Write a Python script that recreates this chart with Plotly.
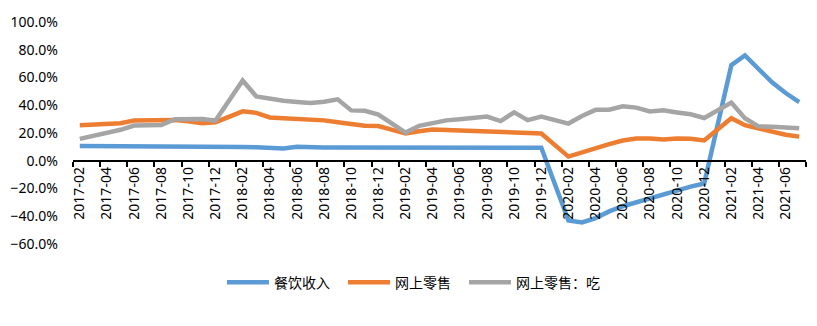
import plotly.graph_objects as go

# Categories: monthly 2017-02 .. 2021-07
categories = []
for y in range(2017, 2022):
    for m in range(1, 13):
        if (y == 2017 and m < 2) or (y == 2021 and m > 7):
            continue
        categories.append(f"{y}-{m:02d}")

N = None
catering = [10.7, 10.7, 10.7, 10.7, 10.7, 10.7, 10.7, 10.7, 10.7, 10.7, 10.6,
            N, 9.9, 9.8, 9.7, 8.9, 10.1, 9.5, 9.5, 9.5, 9.5, 9.5, 9.5,
            N, 9.7, 9.6, 9.6, 9.5, 9.4, 9.4, 9.4, 9.4, 9.4, 9.4, 9.4,
            N, -43.1, -44.5, -41.3, -36.5, -32.8, -29.8, -26.8, -23.8, -21.0, -18.6, -16.4,
            N, 68.9, 75.9, 66.7, 56.5, 48.8, 42.3]

online = [25.5, 26.0, 26.4, 27.0, 29.0, 29.3, 29.8, 29.3, 28.4, 27.1, 27.8,
          N, 35.6, 34.5, 31.2, 30.6, 30.1, 29.4, 29.1, 27.7, 26.5, 25.3, 25.0,
          N, 19.6, 21.2, 22.5, 22.2, 21.9, 21.4, 21.0, 20.6, 20.0, 19.8, 19.7,
          N, 3.0, 6.2, 9.2, 12.0, 14.6, 16.0, 16.0, 15.3, 16.0, 15.8, 14.6,
          N, 30.7, 25.6, 23.1, 20.4, 18.7, 17.4]

online_food = [15.8, 18.0, 20.0, 22.3, 25.4, 25.5, 25.7, 29.9, 30.1, 30.1, 29.0,
               N, 57.8, 46.4, 44.4, 43.2, 42.4, 41.6, 42.5, 44.3, 36.3, 36.0, 33.3,
               N, 20.3, 25.2, 27.0, 29.1, 29.9, 30.8, 31.8, 28.6, 34.9, 29.3, 31.8,
               N, 26.8, 32.3, 36.7, 36.8, 39.2, 38.3, 35.5, 36.3, 34.8, 33.5, 30.8,
               N, 41.9, 30.6, 24.8, 24.5, 24.0, 23.5]

series_names = ["餐饮收入", "网上零售", "网上零售：吃"]
colors = ["#5B9BD5", "#ED7D31", "#A5A5A5"]
legend_widths = [64, 64, 95]

fig = go.Figure()
for name, vals, col, lw in zip(series_names, [catering, online, online_food], colors, legend_widths):
    fig.add_trace(go.Scatter(
        x=categories, y=vals, name=name, mode="lines",
        connectgaps=True, legendwidth=lw,
        line=dict(color=col, width=4.5, shape="linear"),
    ))

fig.update_layout(
    width=817, height=326,
    margin=dict(l=73, r=11, t=22, b=82, autoexpand=False),
    paper_bgcolor="white", plot_bgcolor="white",
    font=dict(family="Noto Sans, Noto Sans CJK SC", size=14, color="#000000"),
    showlegend=True,
    legend=dict(
        orientation="h", xref="container", yref="container",
        x=0.2717, xanchor="left", y=0.133, yanchor="middle",
        font=dict(family="Noto Sans CJK SC", size=14, color="#000000"),
        itemwidth=42, entrywidthmode="pixels",
        bgcolor="rgba(0,0,0,0)",
    ),
)

fig.update_xaxes(
    type="category", categoryorder="array", categoryarray=categories,
    range=[-0.5, len(categories) - 0.5],
    anchor="free", position=60 / 160, automargin=False,
    showline=True, linecolor="#000000", linewidth=1.5,
    ticks="outside", ticklen=5, tickwidth=1.5, tickcolor="#000000",
    tickson="boundaries", dtick=2, tickangle=-90,
    showgrid=False, zeroline=False,
    tickfont=dict(family="Noto Sans", size=14, color="#000000"),
)

fig.update_yaxes(
    range=[-60, 100], dtick=20, tick0=0, automargin=False,
    tickformat=".1f", ticksuffix="%",
    showgrid=False, zeroline=False, showline=False,
    ticks="", ticklabelstandoff=14,
    tickfont=dict(family="Noto Sans", size=14, color="#000000"),
)

fig.write_html("out.html")
